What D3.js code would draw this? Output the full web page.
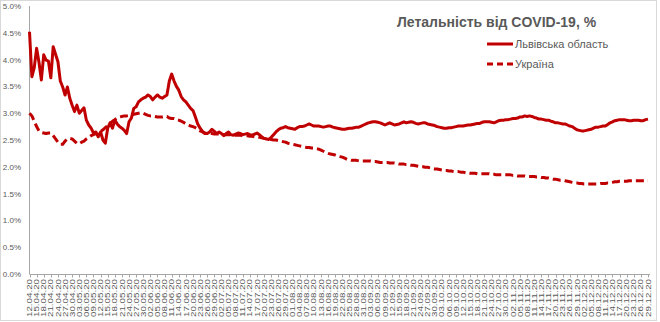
<!DOCTYPE html>
<html>
<head>
<meta charset="utf-8">
<script src="https://cdn.jsdelivr.net/npm/d3@7"></script>
<style>
  html, body { margin: 0; padding: 0; background: #fff; }
  svg { display: block; }
  text { font-family: "Liberation Sans", Arial, sans-serif; fill: #595959; }
</style>
</head>
<body>
<div id="chart"></div>
<script>
// Дні з 12.04.20 по 29.12.20, підпис кожного третього дня
const startDay = new Date(2020, 3, 12);
const endDay = new Date(2020, 11, 29);
const days = d3.timeDay.range(startDay, d3.timeDay.offset(endDay, 1));
const labelStep = 3;

const yTicks = [0, 0.5, 1.0, 1.5, 2.0, 2.5, 3.0, 3.5, 4.0, 4.5, 5.0];

const seriesNames = ["Львівська область", "Україна"];

// Летальність, %
const lviv = [
  4.52, 3.68, 3.85, 4.21, 3.95, 3.62, 4.09, 3.99, 3.97, 3.66,
  4.24, 4.10, 3.96, 3.60, 3.49, 3.34, 3.49, 3.28, 3.15, 3.03,
  3.15, 3.00, 3.05, 3.10, 2.87, 2.78, 2.72, 2.63, 2.65, 2.56,
  2.65, 2.50, 2.44, 2.72, 2.82, 2.72, 2.87, 2.80, 2.75, 2.72,
  2.68, 2.62, 2.84, 2.91, 3.09, 3.12, 3.21, 3.25, 3.28, 3.30,
  3.34, 3.31, 3.25, 3.30, 3.34, 3.30, 3.28, 3.31, 3.34, 3.60,
  3.73, 3.60, 3.50, 3.43, 3.31, 3.25, 3.21, 3.15, 3.09, 3.05,
  2.93, 2.80, 2.72, 2.66, 2.62, 2.62, 2.65, 2.70, 2.66, 2.62,
  2.65, 2.62, 2.58, 2.62, 2.65, 2.60, 2.59, 2.61, 2.63, 2.62,
  2.60, 2.61, 2.62, 2.60, 2.59, 2.61, 2.63, 2.60, 2.56, 2.53,
  2.52, 2.51, 2.55, 2.60, 2.65, 2.69, 2.72, 2.73, 2.75, 2.73,
  2.72, 2.71, 2.70, 2.73, 2.75, 2.75, 2.76, 2.78, 2.80, 2.78,
  2.76, 2.76, 2.76, 2.75, 2.74, 2.75, 2.76, 2.76, 2.74, 2.73,
  2.72, 2.71, 2.70, 2.70, 2.71, 2.72, 2.72, 2.73, 2.74, 2.74,
  2.76, 2.78, 2.80, 2.82, 2.83, 2.84, 2.84, 2.83, 2.82, 2.80,
  2.78, 2.80, 2.82, 2.80, 2.78, 2.79, 2.80, 2.82, 2.84, 2.82,
  2.83, 2.84, 2.83, 2.81, 2.80, 2.81, 2.82, 2.82, 2.80, 2.79,
  2.78, 2.77, 2.75, 2.74, 2.73, 2.72, 2.72, 2.73, 2.73, 2.74,
  2.75, 2.76, 2.76, 2.76, 2.77, 2.78, 2.78, 2.79, 2.80, 2.81,
  2.81, 2.83, 2.84, 2.84, 2.84, 2.83, 2.82, 2.84, 2.86, 2.87,
  2.87, 2.88, 2.88, 2.89, 2.90, 2.90, 2.91, 2.93, 2.93, 2.95,
  2.94, 2.95, 2.94, 2.92, 2.91, 2.89, 2.89, 2.88, 2.87, 2.87,
  2.85, 2.84, 2.82, 2.82, 2.81, 2.80, 2.80, 2.78, 2.76, 2.75,
  2.72, 2.69, 2.68, 2.67, 2.67, 2.68, 2.69, 2.70, 2.72, 2.74,
  2.74, 2.75, 2.76, 2.76, 2.79, 2.82, 2.84, 2.86, 2.87, 2.88,
  2.88, 2.88, 2.87, 2.86, 2.86, 2.87, 2.87, 2.87, 2.86, 2.86,
  2.88, 2.89
];

const ukraine = [
  3.00, 2.95, 2.85, 2.75, 2.67, 2.64, 2.63, 2.62, 2.63, 2.63,
  2.58, 2.52, 2.46, 2.42, 2.42, 2.48, 2.52, 2.53, 2.52, 2.48,
  2.44, 2.43, 2.46, 2.48, 2.52, 2.55, 2.58, 2.60, 2.62, 2.64,
  2.66, 2.69, 2.73, 2.77, 2.81, 2.85, 2.88, 2.91, 2.93, 2.94,
  2.95, 2.95, 2.96, 2.97, 2.98, 2.99, 3.00, 3.01, 3.00, 2.98,
  2.96, 2.95, 2.95, 2.94, 2.93, 2.93, 2.93, 2.94, 2.94, 2.91,
  2.90, 2.90, 2.88, 2.87, 2.85, 2.83, 2.80, 2.78, 2.76, 2.75,
  2.73, 2.70, 2.67, 2.65, 2.63, 2.62, 2.62, 2.62, 2.61, 2.61,
  2.61, 2.61, 2.60, 2.60, 2.60, 2.60, 2.59, 2.59, 2.59, 2.59,
  2.58, 2.58, 2.58, 2.57, 2.57, 2.56, 2.56, 2.55, 2.54, 2.53,
  2.52, 2.51, 2.51, 2.50, 2.50, 2.49, 2.48, 2.47, 2.46, 2.44,
  2.43, 2.42, 2.41, 2.40, 2.39, 2.38, 2.37, 2.36, 2.36, 2.35,
  2.35, 2.34, 2.33, 2.31, 2.29, 2.27, 2.25, 2.24, 2.23, 2.22,
  2.20, 2.19, 2.18, 2.16, 2.14, 2.13, 2.12, 2.12, 2.12, 2.11,
  2.11, 2.11, 2.11, 2.11, 2.11, 2.10, 2.10, 2.09, 2.08, 2.08,
  2.08, 2.08, 2.07, 2.07, 2.07, 2.06, 2.05, 2.05, 2.05, 2.04,
  2.04, 2.03, 2.03, 2.02, 2.01, 2.00, 2.00, 1.99, 1.99, 1.98,
  1.97, 1.96, 1.96, 1.95, 1.94, 1.93, 1.93, 1.92, 1.92, 1.91,
  1.91, 1.91, 1.90, 1.90, 1.89, 1.89, 1.88, 1.88, 1.88, 1.87,
  1.87, 1.87, 1.87, 1.87, 1.87, 1.86, 1.86, 1.85, 1.85, 1.85,
  1.85, 1.85, 1.85, 1.85, 1.84, 1.84, 1.83, 1.83, 1.83, 1.83,
  1.82, 1.82, 1.82, 1.82, 1.81, 1.81, 1.80, 1.80, 1.79, 1.79,
  1.78, 1.77, 1.77, 1.76, 1.75, 1.75, 1.74, 1.73, 1.72, 1.71,
  1.70, 1.70, 1.69, 1.69, 1.68, 1.68, 1.68, 1.68, 1.68, 1.68,
  1.68, 1.69, 1.69, 1.69, 1.70, 1.70, 1.71, 1.72, 1.72, 1.73,
  1.73, 1.73, 1.73, 1.74, 1.74, 1.74, 1.74, 1.74, 1.74, 1.74,
  1.74, 1.74
];

const width = 660;
const height = 322;
const red = "#c00000";
const axisColor = "#a6a6a6";
const plot = { left: 29.5, right: 648, top: 6, bottom: 274 };

const svg = d3.select("#chart").append("svg")
  .attr("width", width)
  .attr("height", height);

// рамка області діаграми
svg.append("rect")
  .attr("x", 0.5).attr("y", 0.5)
  .attr("width", width - 4).attr("height", height - 2)
  .attr("fill", "#fff")
  .attr("stroke", "#d9d9d9");

const x = d3.scalePoint()
  .domain(d3.range(days.length))
  .range([plot.left, plot.right]);

const y = d3.scaleLinear()
  .domain([0, 5])
  .range([plot.bottom, plot.top]);

const fmtDay = d3.timeFormat("%d.%m.%y");
const labelIdx = d3.range(0, days.length, labelStep);

// вісь Y (лише підписи та лінія)
svg.append("g")
  .selectAll("text")
  .data(yTicks)
  .enter().append("text")
  .attr("x", 21)
  .attr("y", d => y(d) + 3)
  .attr("text-anchor", "end")
  .style("font-size", "8px")
  .text(d => d.toFixed(1) + "%");

svg.append("line")
  .attr("x1", plot.left).attr("x2", plot.left)
  .attr("y1", plot.top).attr("y2", plot.bottom)
  .attr("stroke", axisColor);

// вісь X
const xAxis = svg.append("g");
xAxis.append("line")
  .attr("x1", plot.left).attr("x2", plot.right + 2)
  .attr("y1", plot.bottom + 0.5).attr("y2", plot.bottom + 0.5)
  .attr("stroke", axisColor);

xAxis.selectAll("line.tick")
  .data(labelIdx)
  .enter().append("line")
  .attr("class", "tick")
  .attr("x1", d => Math.round(x(d)) + 0.5)
  .attr("x2", d => Math.round(x(d)) + 0.5)
  .attr("y1", plot.bottom)
  .attr("y2", plot.bottom + 3.5)
  .attr("stroke", axisColor);

xAxis.selectAll("text")
  .data(labelIdx)
  .enter().append("text")
  .attr("transform", d => `translate(${x(d) + 2.6},${plot.bottom + 5}) rotate(-90)`)
  .attr("text-anchor", "end")
  .attr("textLength", 38)
  .attr("lengthAdjust", "spacingAndGlyphs")
  .style("font-size", "7.5px")
  .text(d => fmtDay(days[d]));

// лінії
const line = d3.line()
  .x((d, i) => x(i))
  .y(d => y(d));

svg.append("path")
  .datum(ukraine)
  .attr("fill", "none")
  .attr("stroke", red)
  .attr("stroke-width", 3)
  .attr("stroke-dasharray", "8,4")
  .attr("stroke-linejoin", "round")
  .attr("d", line);

svg.append("path")
  .datum(lviv)
  .attr("fill", "none")
  .attr("stroke", red)
  .attr("stroke-width", 3)
  .attr("stroke-linejoin", "round")
  .attr("d", line);

// заголовок
svg.append("text")
  .attr("x", 397)
  .attr("y", 27)
  .style("font-size", "14px")
  .style("font-weight", "bold")
  .text("Летальність від COVID-19, %");

// легенда
const legend = svg.append("g")
  .selectAll("g")
  .data(seriesNames)
  .enter().append("g")
  .attr("transform", (d, i) => `translate(487,${44 + i * 20})`);

legend.append("line")
  .attr("x1", 0).attr("x2", 26)
  .attr("stroke", red)
  .attr("stroke-width", 3)
  .attr("stroke-dasharray", (d, i) => i ? "6,4" : null);

legend.append("text")
  .attr("x", 28)
  .attr("y", 4)
  .style("font-size", "11px")
  .text(d => d);
</script>
</body>
</html>
